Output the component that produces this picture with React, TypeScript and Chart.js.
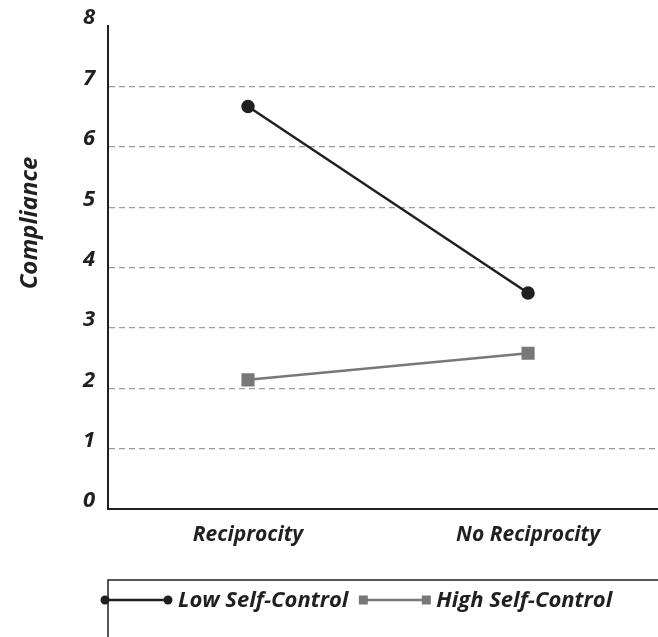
import React, { useEffect, useRef } from "react";
import { Chart, registerables } from "chart.js";

Chart.register(...registerables);

const categories = ["Reciprocity", "No Reciprocity"];
const seriesLabels = ["Low Self-Control", "High Self-Control"];
const lowSelfControl = [6.67, 3.58];
const highSelfControl = [2.14, 2.58];
const yMin = 0;
const yMax = 8;
const yTitle = "Compliance";

const FONT = "'Open Sans', 'Liberation Sans', sans-serif";
const INK = "#231f20";
const GREY = "#77787b";

const legendPlugin = {
  id: "customLegend",
  afterDraw(chart: any) {
    const ctx = chart.ctx as CanvasRenderingContext2D;
    const left = chart.chartArea.left;
    const w = chart.width;
    const h = chart.height;
    const boxTop = 580;
    ctx.save();
    ctx.strokeStyle = INK;
    ctx.lineWidth = 1.5;
    ctx.beginPath();
    ctx.moveTo(left, h);
    ctx.lineTo(left, boxTop);
    ctx.lineTo(w, boxTop);
    ctx.stroke();

    const cy = 600;
    let x = left - 3;
    ctx.font = `italic bold 22px ${FONT}`;
    ctx.textBaseline = "middle";
    chart.data.datasets.forEach((ds: any) => {
      const x1 = x;
      const x2 = x + 63;
      ctx.strokeStyle = ds.borderColor;
      ctx.lineWidth = 2.5;
      ctx.beginPath();
      ctx.moveTo(x1, cy);
      ctx.lineTo(x2, cy);
      ctx.stroke();
      ctx.fillStyle = ds.pointBackgroundColor;
      [x1, x2].forEach((px) => {
        ctx.beginPath();
        if (ds.pointStyle === "rect") {
          ctx.rect(px - 4.5, cy - 4.5, 9, 9);
        } else {
          ctx.arc(px, cy, 4.5, 0, Math.PI * 2);
        }
        ctx.fill();
      });
      ctx.fillStyle = INK;
      ctx.textAlign = "left";
      const tx = x2 + 10;
      ctx.fillText(ds.label, tx, cy + 1);
      x = tx + ctx.measureText(ds.label).width + 15;
    });

    ctx.save();
    ctx.translate(30, 223);
    ctx.rotate(-Math.PI / 2);
    ctx.textAlign = "center";
    ctx.textBaseline = "middle";
    ctx.font = `italic bold 24px ${FONT}`;
    ctx.fillStyle = INK;
    ctx.fillText(yTitle, 0, 0);
    ctx.restore();
    ctx.restore();
  },
};

export default function App() {
  const ref = useRef<HTMLCanvasElement | null>(null);

  useEffect(() => {
    if (!ref.current) return;
    const chart = new Chart(ref.current, {
      type: "line",
      data: {
        datasets: [
          {
            label: seriesLabels[0],
            data: categories.map((_, i) => ({ x: i + 1, y: lowSelfControl[i] })),
            borderColor: INK,
            backgroundColor: INK,
            pointBackgroundColor: INK,
            pointBorderColor: INK,
            pointStyle: "circle",
            pointRadius: 5.5,
            borderWidth: 2.5,
          },
          {
            label: seriesLabels[1],
            data: categories.map((_, i) => ({ x: i + 1, y: highSelfControl[i] })),
            borderColor: GREY,
            backgroundColor: GREY,
            pointBackgroundColor: GREY,
            pointBorderColor: GREY,
            pointStyle: "rect",
            pointRadius: 7.5,
            borderWidth: 2.5,
          },
        ],
      },
      options: {
        animation: false,
        responsive: true,
        maintainAspectRatio: false,
        layout: { autoPadding: false, padding: { top: 26, right: 0, left: 0, bottom: 0 } },
        plugins: {
          legend: { display: false },
          tooltip: { enabled: false },
        },
        scales: {
          x: {
            type: "linear",
            min: 0.5,
            max: 2.464,
            afterBuildTicks: (s: any) => {
              s.ticks = categories.map((_, i) => ({ value: i + 1 }));
            },
            afterFit: (s: any) => {
              s.height = 128;
              s.paddingRight = 0;
              s.paddingLeft = 0;
            },
            grid: { display: false, drawTicks: false },
            border: { display: true, color: INK, width: 2 },
            ticks: {
              autoSkip: false,
              maxRotation: 0,
              padding: 13,
              color: INK,
              font: { family: FONT, size: 21, weight: "bold", style: "italic" },
              callback: (v: any) => categories[Math.round(v) - 1] ?? "",
            },
          },
          y: {
            min: yMin,
            max: yMax,
            afterFit: (s: any) => {
              s.width = 108;
            },
            grid: {
              drawTicks: false,
              color: (c: any) =>
                c.tick && (c.tick.value === yMin || c.tick.value === yMax)
                  ? "rgba(0,0,0,0)"
                  : "#9d9d9d",
              lineWidth: 1.2,
            },
            border: { display: true, color: INK, width: 2, dash: [6, 4] },
            ticks: {
              stepSize: 1,
              padding: 13,
              labelOffset: -8,
              color: INK,
              font: { family: FONT, size: 22, weight: "bold", style: "italic" },
            },
          },
        },
      },
      plugins: [legendPlugin],
    });
    return () => chart.destroy();
  }, []);

  return (
    <div style={{ position: "absolute", left: 0, top: 0, width: 658, height: 637, background: "#fff" }}>
      <canvas ref={ref} />
    </div>
  );
}
